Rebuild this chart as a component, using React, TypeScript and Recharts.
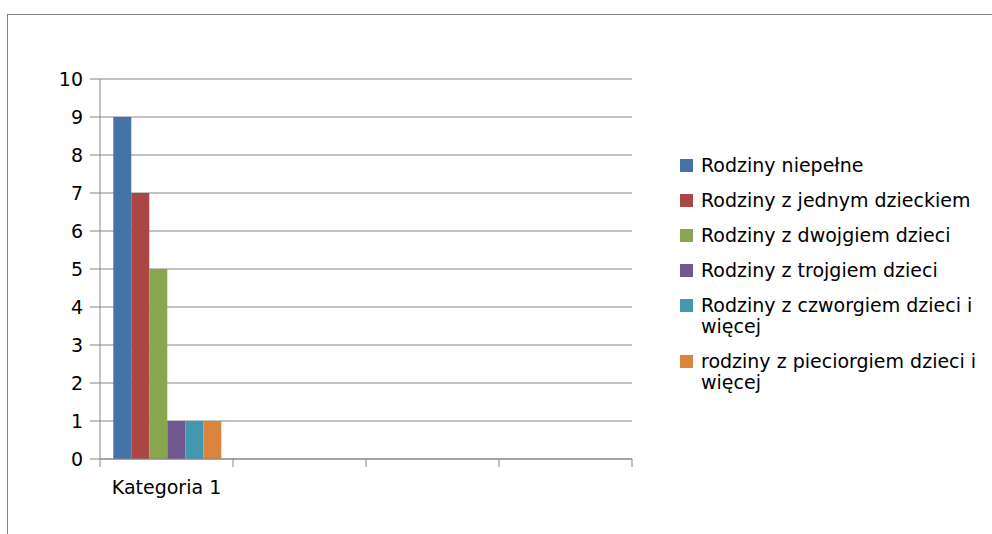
import React from "react";
import { BarChart, Bar, XAxis, YAxis, CartesianGrid } from "recharts";

const categories = ["Kategoria 1", "", "", ""];
const seriesNames = [
  "Rodziny niepełne",
  "Rodziny z jednym dzieckiem",
  "Rodziny z dwojgiem dzieci",
  "Rodziny z trojgiem dzieci",
  "Rodziny z czworgiem dzieci i więcej",
  "rodziny z pieciorgiem dzieci i więcej",
];
const seriesColors = ["#4572A7", "#AA4643", "#89A54E", "#71588F", "#4198AF", "#DB843D"];
// only the first category holds values
const niepelne = [9];
const jednoDziecko = [7];
const dwojeDzieci = [5];
const trojeDzieci = [1];
const czworoDzieci = [1];
const piecioroDzieci = [1];
const yTicks = [0, 1, 2, 3, 4, 5, 6, 7, 8, 9, 10];

const seriesValues = [niepelne, jednoDziecko, dwojeDzieci, trojeDzieci, czworoDzieci, piecioroDzieci];

const data = categories.map((name, i) => {
  const row: Record<string, string | number | null> = { name };
  seriesValues.forEach((vals, s) => {
    row[`s${s}`] = vals[i] ?? null;
  });
  return row;
});

const FONT = "'DejaVu Sans', sans-serif";
const FONT_SIZE = 19;
const GRID = "#868686";
const CHART_W = 984;
const CHART_H = 518;
const MARGIN = { top: 71, right: 360, left: 0, bottom: 0 };
const Y_W = 92;
const BAND = (CHART_W - MARGIN.right - MARGIN.left - Y_W) / categories.length;
const X_TICK_SIZE = 8;
const X_TICK_MARGIN = 14;

// category label in the middle, tick marks on the category borders (Excel style)
const CategoryTick = (props: any) => {
  const { x, y, payload, index } = props;
  const axisY = y - X_TICK_SIZE - X_TICK_MARGIN;
  const left = x - BAND / 2;
  const right = x + BAND / 2;
  return (
    <g>
      <line x1={left} x2={left} y1={axisY} y2={axisY + X_TICK_SIZE} stroke={GRID} strokeWidth={1} />
      {index === categories.length - 1 && (
        <line x1={right} x2={right} y1={axisY} y2={axisY + X_TICK_SIZE} stroke={GRID} strokeWidth={1} />
      )}
      <text x={x} y={y} dy="0.71em" textAnchor="middle" fill="#000" fontSize={FONT_SIZE} fontFamily={FONT}>
        {payload.value}
      </text>
    </g>
  );
};

const LegendBox = () => (
  <div
    style={{
      position: "absolute",
      left: 680,
      top: 155,
      fontFamily: FONT,
      fontSize: FONT_SIZE,
      lineHeight: "21px",
      color: "#000",
    }}
  >
    {seriesNames.map((name, i) => (
      <div key={name} style={{ display: "flex", alignItems: "flex-start", marginBottom: 14 }}>
        <div style={{ width: 13, height: 13, marginTop: 4, background: seriesColors[i], flex: "none" }} />
        <div style={{ marginLeft: 8, width: 285 }}>{name}</div>
      </div>
    ))}
  </div>
);

const App = () => {
  return (
    <div style={{ position: "relative", width: 992, height: 534, overflow: "hidden" }}>
      <style>{"body { margin: 0; }"}</style>
      {/* outer frame: only its top and left edges fall inside the picture */}
      <div
        style={{
          position: "absolute",
          left: 7,
          top: 14,
          width: 990,
          height: 530,
          borderTop: `1px solid ${GRID}`,
          borderLeft: `1px solid ${GRID}`,
        }}
      />
      <div style={{ position: "absolute", left: 8, top: 8 }}>
        <BarChart
          width={CHART_W}
          height={CHART_H}
          data={data}
          margin={MARGIN}
          barCategoryGap="10%"
          barGap={0}
        >
          <CartesianGrid vertical={false} stroke={GRID} strokeWidth={1} />
          <XAxis
            dataKey="name"
            height={67}
            interval={0}
            axisLine={{ stroke: GRID }}
            tickLine={false}
            tickSize={X_TICK_SIZE}
            tickMargin={X_TICK_MARGIN}
            tick={<CategoryTick />}
          />
          <YAxis
            width={Y_W}
            domain={[0, 10]}
            ticks={yTicks}
            interval={0}
            axisLine={{ stroke: GRID }}
            tickLine={{ stroke: GRID }}
            tickSize={10}
            tickMargin={7}
            tick={{ fill: "#000", fontSize: FONT_SIZE, fontFamily: FONT }}
          />
          {seriesNames.map((name, s) => (
            <Bar key={name} dataKey={`s${s}`} name={name} fill={seriesColors[s]} isAnimationActive={false} />
          ))}
        </BarChart>
      </div>
      <LegendBox />
    </div>
  );
};

export default App;
